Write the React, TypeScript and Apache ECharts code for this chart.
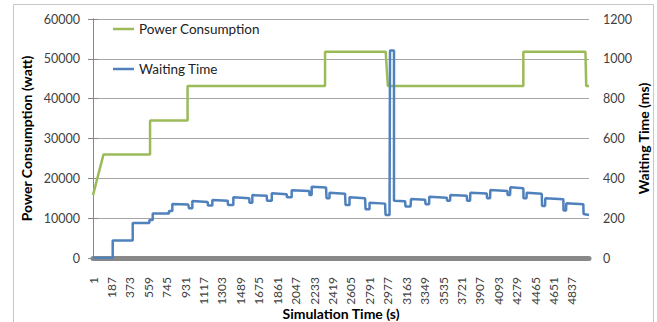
import React, { useEffect, useRef } from "react";
import * as echarts from "echarts";

// Simulation time (0-based sample index) tick settings
const xTickInterval = 186;
const xMax = 5008;

// Power Consumption (watt): [sample index, watt]
const powerConsumption: [number, number][] = [
  [0, 15800], [106, 26000], [576, 26000], [576, 34500], [955, 34500], [955, 43200],
  [2343, 43200], [2343, 51800], [2955, 51800], [2977, 43200], [4345, 43200],
  [4345, 51800], [4972, 51800], [4980, 43200], [5008, 43200],
];

// Waiting Time (ms): [sample index, ms]
const waitingTime: [number, number][] = [
  [0, 0], [199, 0], [199, 88], [401, 88], [401, 176], [569, 176], [569, 191],
  [603, 191], [603, 223], [767, 223], [767, 236], [801, 236], [801, 271],
  [962, 268], [969, 250], [1003, 250], [1003, 286], [1158, 281], [1161, 263],
  [1205, 263], [1205, 291], [1360, 288], [1363, 266], [1417, 266], [1417, 305],
  [1578, 300], [1580, 278], [1609, 278], [1609, 316], [1754, 313], [1757, 288],
  [1805, 288], [1805, 325], [1956, 320], [1959, 305], [2006, 305], [2006, 340],
  [2184, 336], [2186, 316], [2208, 316], [2208, 358], [2353, 354], [2358, 300],
  [2388, 300], [2388, 328], [2545, 322], [2550, 266], [2590, 266], [2590, 305],
  [2747, 300], [2752, 245], [2792, 245], [2792, 278], [2949, 273], [2954, 216],
  [2994, 216], [2999, 1042], [3039, 1042], [3039, 288], [3151, 285], [3156, 258],
  [3206, 258], [3211, 296], [3353, 293], [3358, 270], [3393, 270], [3396, 308],
  [3572, 303], [3575, 288], [3605, 288], [3608, 316], [3774, 312], [3777, 288],
  [3807, 288], [3810, 328], [3976, 324], [3979, 300], [4009, 300], [4012, 341],
  [4184, 337], [4186, 316], [4211, 316], [4214, 355], [4345, 350], [4347, 300],
  [4377, 300], [4379, 328], [4531, 322], [4534, 261], [4564, 261], [4567, 300],
  [4749, 295], [4751, 238], [4776, 238], [4779, 275], [4951, 270], [4953, 221],
  [5008, 216],
];

const leftAxis = { min: 0, max: 60000, interval: 10000 };
const rightAxis = { min: 0, max: 1200, interval: 200 };

const FONT = "Lato";
const GRAY = "#a6a6a6";
const LABEL = "#404040";

export default function App() {
  const ref = useRef<HTMLDivElement>(null);
  useEffect(() => {
    if (!ref.current) return;
    const chart = echarts.init(ref.current, undefined, { renderer: "svg" });
    chart.setOption({
      animation: false,
      textStyle: { fontFamily: FONT },
      graphic: [
        {
          type: "rect",
          shape: { x: 13.5, y: 4.5, width: 640, height: 340 },
          style: { fill: "none", stroke: "#c8c8c8", lineWidth: 1 },
          silent: true,
        },
      ],
      grid: { left: 93, right: 68, top: 19, bottom: 64, containLabel: false, outerBoundsMode: "none" },
      legend: {
        left: 108,
        top: 17,
        orient: "vertical",
        icon: "rect",
        itemWidth: 21,
        itemHeight: 2.5,
        itemGap: 26,
        textStyle: { fontFamily: FONT, fontSize: 13.5, color: "#222" },
        data: ["Power Consumption", "Waiting Time"],
      },
      xAxis: [
        {
          type: "value",
          min: 0,
          max: xMax,
          interval: xTickInterval,
          name: "Simulation Time (s)",
          nameLocation: "middle",
          nameGap: 48,
          nameMoveOverlap: false,
          nameTextStyle: { fontFamily: FONT, fontSize: 14, fontWeight: "bold", color: "#000" },
          axisLine: { show: true, lineStyle: { color: "#888", width: 1 } },
          axisTick: { show: false },
          splitLine: { show: false },
          axisLabel: {
            rotate: 90,
            margin: 19,
            fontSize: 12,
            color: LABEL,
            fontFamily: FONT,
            showMaxLabel: false,
            formatter: (v: number) => String(v + 1),
          },
        },
        {
          type: "value",
          position: "bottom",
          offset: 3,
          min: 0,
          max: xMax,
          axisLine: { show: true, lineStyle: { color: "#888", width: 5 } },
          axisTick: { show: false },
          axisLabel: { show: false },
          splitLine: { show: false },
        },
      ],
      yAxis: [
        {
          type: "value",
          position: "left",
          min: leftAxis.min,
          max: leftAxis.max,
          interval: leftAxis.interval,
          name: "Power Consumption (watt)",
          nameLocation: "middle",
          nameGap: 60,
          nameMoveOverlap: false,
          nameTextStyle: { fontFamily: FONT, fontSize: 14, fontWeight: "bold", color: "#000" },
          axisLine: { show: true, lineStyle: { color: "#888" } },
          axisTick: { show: true, length: 5, lineStyle: { color: "#888" } },
          splitLine: { show: true, lineStyle: { color: GRAY, width: 1 } },
          axisLabel: { margin: 13, fontSize: 12.5, color: LABEL, fontFamily: FONT, formatter: (v: number) => String(v) },
        },
        {
          type: "value",
          position: "right",
          min: rightAxis.min,
          max: rightAxis.max,
          interval: rightAxis.interval,
          name: "Waiting Time (ms)",
          nameLocation: "middle",
          nameGap: 47,
          nameRotate: 90,
          nameMoveOverlap: false,
          nameTextStyle: { fontFamily: FONT, fontSize: 14, fontWeight: "bold", color: "#000" },
          axisLine: { show: true, lineStyle: { color: "#888" } },
          axisTick: { show: true, length: 5, lineStyle: { color: "#888" } },
          splitLine: { show: false },
          axisLabel: { margin: 14, fontSize: 12.5, color: LABEL, fontFamily: FONT, formatter: (v: number) => String(v) },
        },
      ],
      series: [
        {
          name: "Power Consumption",
          type: "line",
          xAxisIndex: 0,
          yAxisIndex: 0,
          data: powerConsumption,
          symbol: "none",
          lineStyle: { color: "#9bbb59", width: 2.5 },
          itemStyle: { color: "#9bbb59" },
        },
        {
          name: "Waiting Time",
          type: "line",
          xAxisIndex: 0,
          yAxisIndex: 1,
          data: waitingTime,
          symbol: "none",
          lineStyle: { color: "#4f81bd", width: 2.5 },
          itemStyle: { color: "#4f81bd" },
        },
      ],
    });
    return () => chart.dispose();
  }, []);
  return (
    <div
      ref={ref}
      style={{ position: "absolute", left: 0, top: 0, width: 657, height: 322, background: "#fff" }}
    />
  );
}
